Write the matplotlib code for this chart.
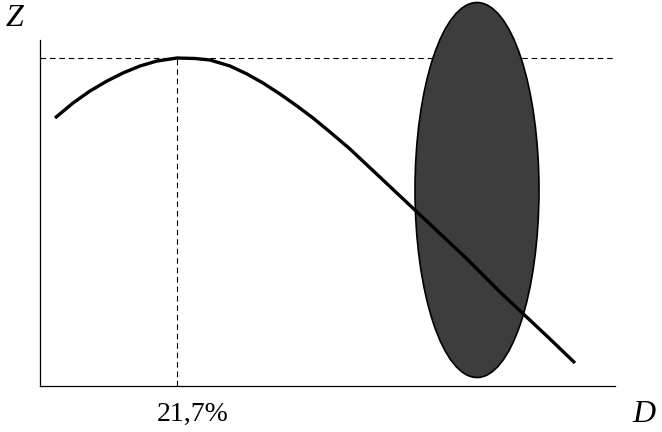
import numpy as np
import matplotlib
matplotlib.use("Agg")
import matplotlib.pyplot as plt
from matplotlib.patches import Ellipse

# curve Z(D) (axis units ~ pixels from the origin)
curve_d = [15, 33, 50, 67, 83, 100, 117, 137, 155, 170, 190, 207, 223, 240, 257, 273, 290, 310, 327,
           343, 360, 377, 393, 410, 427, 443, 460, 477, 493, 510, 535]
curve_z = [268, 283, 295, 305, 313, 320, 325, 328, 327.5, 326, 320, 312, 303, 292, 280, 268, 254, 237, 221,
           206, 190, 174, 159, 143, 127, 111, 94, 78, 63, 47, 23]

peak_d = 137
peak_z = 328
peak_label = "21,7%"

# shaded zone (centre, width, height)
zone_center = (437, 196)
zone_w = 124
zone_h = 375

plt.rcParams['font.family'] = ['Liberation Serif', 'DejaVu Serif']

fig = plt.figure(figsize=(6.62, 4.32), dpi=100)
ax = fig.add_axes([40 / 662, 46 / 432, 575 / 662, 346 / 432])
ax.set_xlim(0, 575)
ax.set_ylim(0, 346)

for s in ['top', 'right']:
    ax.spines[s].set_visible(False)
for s in ['left', 'bottom']:
    ax.spines[s].set_linewidth(0.9)
ax.set_xticks([])
ax.set_yticks([])

# dashed guides
ax.plot([0, 575], [peak_z, peak_z], color='black', lw=0.8, dashes=(5, 3.5), clip_on=False)
ax.plot([peak_d, peak_d], [0, peak_z], color='black', lw=0.8, dashes=(5, 3.5), clip_on=False)

zone = Ellipse(zone_center, zone_w, zone_h, facecolor='#3d3d3d', edgecolor='black',
               lw=1.2, clip_on=False, zorder=2)
ax.add_patch(zone)

ax.plot(curve_d, curve_z, color='black', lw=2.4, solid_capstyle='butt',
        solid_joinstyle='round', zorder=3, clip_on=False)

fig.text(14 / 662, 1 - 19 / 432, "Z", fontsize=23, style='italic', ha='center', va='center')
fig.text(644 / 662, 1 - 415 / 432, "D", fontsize=23, style='italic', ha='center', va='center')
ax.annotate(peak_label, xy=(peak_d, 0), xytext=(16, -28), textcoords='offset pixels',
            fontsize=20, ha='center', va='center', annotation_clip=False)

fig.savefig("out.png", dpi=100)
